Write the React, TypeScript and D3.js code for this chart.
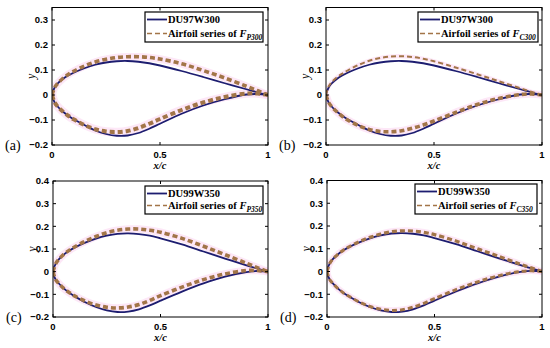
import React from "react";
import * as d3 from "d3";

// chord stations shared by every profile
const xStations = [0, 0.0125, 0.025, 0.05, 0.075, 0.1, 0.15, 0.2, 0.25, 0.3, 0.35, 0.4, 0.45, 0.5, 0.6, 0.7, 0.8, 0.9, 0.95, 1];

// DU97W300 baseline
const du97Upper = [0, 0.03, 0.045, 0.064, 0.078, 0.089, 0.107, 0.121, 0.13, 0.135, 0.136, 0.133, 0.127, 0.118, 0.096, 0.072, 0.047, 0.023, 0.011, 0];
const du97Lower = [0, -0.03, -0.045, -0.066, -0.083, -0.097, -0.12, -0.142, -0.156, -0.163, -0.162, -0.152, -0.135, -0.115, -0.075, -0.042, -0.017, 0.002, 0.004, 0];
// series F_P300
const fp300Upper = [0, 0.03, 0.045, 0.066, 0.082, 0.095, 0.116, 0.132, 0.143, 0.15, 0.153, 0.153, 0.15, 0.144, 0.125, 0.098, 0.068, 0.035, 0.018, 0];
const fp300Lower = [0, -0.03, -0.045, -0.066, -0.083, -0.097, -0.12, -0.137, -0.146, -0.148, -0.144, -0.132, -0.115, -0.096, -0.06, -0.03, -0.008, 0.006, 0.006, 0];
// series F_C300
const fc300Upper = [0, 0.035, 0.05, 0.07, 0.085, 0.098, 0.12, 0.137, 0.148, 0.154, 0.155, 0.152, 0.145, 0.135, 0.11, 0.083, 0.055, 0.027, 0.013, 0];
const fc300Lower = [0, -0.03, -0.045, -0.067, -0.085, -0.1, -0.122, -0.138, -0.146, -0.147, -0.143, -0.133, -0.12, -0.104, -0.07, -0.038, -0.014, 0.002, 0.004, 0];

// DU99W350 baseline
const du99Upper = [0, 0.035, 0.052, 0.075, 0.092, 0.106, 0.128, 0.146, 0.159, 0.167, 0.169, 0.166, 0.159, 0.147, 0.12, 0.089, 0.058, 0.028, 0.014, 0];
const du99Lower = [0, -0.035, -0.05, -0.074, -0.093, -0.108, -0.135, -0.156, -0.171, -0.178, -0.176, -0.166, -0.149, -0.128, -0.088, -0.052, -0.022, -0.002, 0.003, 0];
// series F_P350
const fp350Upper = [0, 0.035, 0.052, 0.076, 0.094, 0.109, 0.134, 0.155, 0.172, 0.183, 0.188, 0.188, 0.183, 0.174, 0.147, 0.112, 0.075, 0.037, 0.018, 0];
const fp350Lower = [0, -0.035, -0.05, -0.074, -0.092, -0.107, -0.13, -0.147, -0.157, -0.16, -0.156, -0.145, -0.127, -0.106, -0.068, -0.035, -0.01, 0.005, 0.005, 0];
// series F_C350
const fc350Upper = [0, 0.035, 0.052, 0.075, 0.093, 0.107, 0.131, 0.15, 0.165, 0.175, 0.179, 0.178, 0.172, 0.162, 0.134, 0.1, 0.066, 0.032, 0.016, 0];
const fc350Lower = [0, -0.035, -0.05, -0.074, -0.093, -0.108, -0.134, -0.154, -0.166, -0.171, -0.168, -0.157, -0.14, -0.119, -0.08, -0.046, -0.018, 0, 0.003, 0];

const xTicks = [0, 0.5, 1];
const yTicks300 = [-0.2, -0.1, 0, 0.1, 0.2, 0.3];
const yTicks350 = [-0.2, -0.1, 0, 0.1, 0.2, 0.3, 0.4];

const panels = [
  { tag: "(a)", base: "DU97W300", sub: "P300", bu: du97Upper, bl: du97Lower, su: fp300Upper, sl: fp300Lower, yTicks: yTicks300, yMax: 0.35,
    box: { l: 52, r: 268, t: 7.5, b: 145 }, leg: { l: 145, r: 263, t: 12, b: 42 }, w: [3.6, 4] },
  { tag: "(b)", base: "DU97W300", sub: "C300", bu: du97Upper, bl: du97Lower, su: fc300Upper, sl: fc300Lower, yTicks: yTicks300, yMax: 0.35,
    box: { l: 326, r: 542, t: 7.5, b: 145 }, leg: { l: 418, r: 538, t: 12, b: 42 }, w: [2, 3.6] },
  { tag: "(c)", base: "DU99W350", sub: "P350", bu: du99Upper, bl: du99Lower, su: fp350Upper, sl: fp350Lower, yTicks: yTicks350, yMax: 0.4,
    box: { l: 53, r: 268, t: 181, b: 317 }, leg: { l: 145, r: 263, t: 186, b: 214 }, w: [3.6, 3.6] },
  { tag: "(d)", base: "DU99W350", sub: "C350", bu: du99Upper, bl: du99Lower, su: fc350Upper, sl: fc350Lower, yTicks: yTicks350, yMax: 0.4,
    box: { l: 327, r: 542, t: 180.5, b: 317 }, leg: { l: 415, r: 537, t: 184, b: 214 }, w: [3.2, 3] },
];

const navy = "#1d1d70";
const brown = "#a27548";
const pink = "#fcd0f0";
const sans = "'Liberation Sans', Arial, sans-serif";
const serif = "'Liberation Serif', 'Times New Roman', serif";

const fmt = (v: number) => (v < 0 ? "\u2212" + Math.abs(v) : String(v));

function Panel({ p }: { p: (typeof panels)[number] }) {
  const { box, leg } = p;
  const x = d3.scaleLinear().domain([0, 1]).range([box.l, box.r]);
  const y = d3.scaleLinear().domain([-0.2, p.yMax]).range([box.b, box.t]);
  const line = d3
    .line<[number, number]>()
    .curve(d3.curveCatmullRom.alpha(0.5))
    .x((d) => x(d[0]))
    .y((d) => y(d[1]));
  const pts = (ys: number[]) => xStations.map((xs, i) => [xs, ys[i]] as [number, number]);
  const basePath = line([...pts(p.bu)].reverse().concat(pts(p.bl).slice(1)));
  const upPath = line(pts(p.su));
  const lowPath = line(pts(p.sl));
  const clipId = "clip" + p.tag.replace(/\W/g, "");
  const cx = (box.l + box.r) / 2;
  const cy = (box.t + box.b) / 2;
  const row1 = leg.t + 7.5;
  const row2 = leg.b - 8.5;

  return (
    <g>
      <defs>
        <clipPath id={clipId}>
          <rect x={box.l} y={box.t} width={box.r - box.l} height={box.b - box.t} />
        </clipPath>
      </defs>
      <g clipPath={`url(#${clipId})`}>
        {/* faint pink band of the series */}
        <path d={upPath || ""} fill="none" stroke={pink} strokeWidth={p.w[0] * 2.1} strokeOpacity={0.5} />
        <path d={lowPath || ""} fill="none" stroke={pink} strokeWidth={p.w[1] * 2.1} strokeOpacity={0.5} />
        <path d={basePath || ""} fill="none" stroke={navy} strokeWidth={1.8} />
        <path d={upPath || ""} fill="none" stroke={brown} strokeWidth={p.w[0]} strokeDasharray="5 3" />
        <path d={lowPath || ""} fill="none" stroke={brown} strokeWidth={p.w[1]} strokeDasharray="5 3" />
      </g>
      <rect x={box.l} y={box.t} width={box.r - box.l} height={box.b - box.t} fill="none" stroke="#000" strokeWidth={1} />
      {p.yTicks.map((t) => (
        <g key={"y" + t}>
          <line x1={box.l} x2={box.l + 3} y1={y(t)} y2={y(t)} stroke="#000" />
          <line x1={box.r} x2={box.r - 3} y1={y(t)} y2={y(t)} stroke="#000" />
          <text x={box.l - 4} y={y(t)} dy="0.35em" textAnchor="end" fontFamily={sans} fontWeight="bold" fontSize={9.5}>
            {fmt(t)}
          </text>
        </g>
      ))}
      {xTicks.map((t) => (
        <g key={"x" + t}>
          <line x1={x(t)} x2={x(t)} y1={box.b} y2={box.b - 3} stroke="#000" />
          <line x1={x(t)} x2={x(t)} y1={box.t} y2={box.t + 3} stroke="#000" />
          <text x={x(t)} y={box.b + 12.5} textAnchor="middle" fontFamily={sans} fontWeight="bold" fontSize={9.5}>
            {fmt(t)}
          </text>
        </g>
      ))}
      <text x={cx} y={box.b + 24} textAnchor="middle" fontFamily={serif} fontStyle="italic" fontWeight="bold" fontSize={10.5}>
        x/c
      </text>
      <text transform={`translate(${box.l - 17},${cy}) rotate(-90)`} textAnchor="middle" fontFamily={serif} fontStyle="italic" fontSize={12}>
        y
      </text>
      <text x={box.l - 47} y={box.b + 5} fontFamily={serif} fontSize={14}>
        {p.tag}
      </text>
      {/* legend */}
      <rect x={leg.l} y={leg.t} width={leg.r - leg.l} height={leg.b - leg.t} fill="#fff" stroke="#000" strokeWidth={1.2} />
      <line x1={leg.l + 2} x2={leg.l + 22} y1={row1} y2={row1} stroke={navy} strokeWidth={1.8} />
      <line x1={leg.l + 2} x2={leg.l + 22} y1={row2} y2={row2} stroke={brown} strokeWidth={1.5} strokeDasharray="5 3" />
      <text x={leg.l + 23} y={row1} dy="0.35em" fontFamily={serif} fontWeight="bold" fontSize={10.5}>
        {p.base}
      </text>
      <text x={leg.l + 23} y={row2} dy="0.35em" fontFamily={serif} fontWeight="bold" fontSize={10.5}>
        Airfoil series of <tspan fontStyle="italic">F</tspan>
        <tspan fontStyle="italic" fontSize={7.5} dy={3}>
          {p.sub}
        </tspan>
      </text>
    </g>
  );
}

export default function App() {
  return (
    <svg width={550} height={348} style={{ position: "absolute", left: 0, top: 0, background: "#fff" }}>
      {panels.map((p) => (
        <Panel key={p.tag} p={p} />
      ))}
    </svg>
  );
}
